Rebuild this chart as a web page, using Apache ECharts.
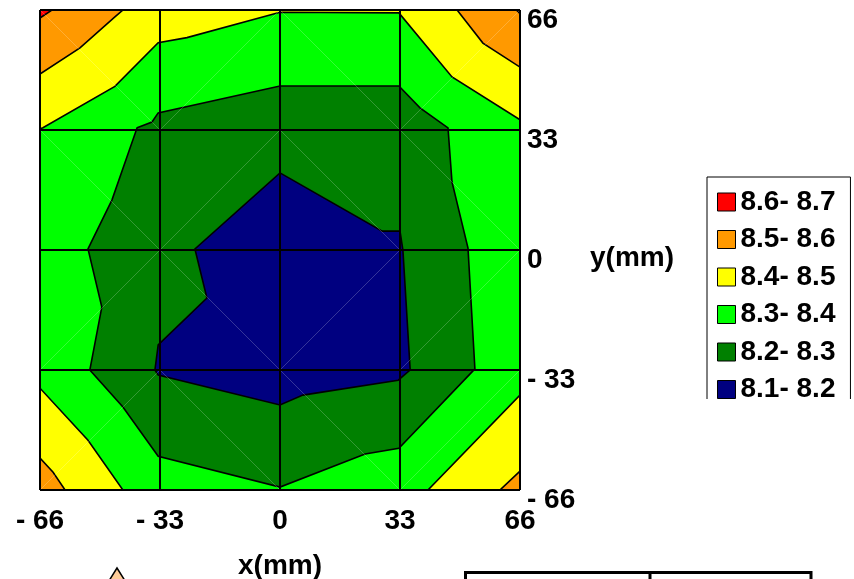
<!DOCTYPE html>
<html>
<head>
<meta charset="utf-8">
<script src="https://cdn.jsdelivr.net/npm/echarts@6/dist/echarts.min.js"></script>
<style>
html,body{margin:0;padding:0;background:#fff;}
#chart{width:854px;height:579px;}
</style>
</head>
<body>
<div id="chart"></div>
<script>
// ---- data (mm coordinates of contour band boundaries) ----
const tickValues = [-66, -33, 0, 33, 66];
const levelNames = ['8.6- 8.7', '8.5- 8.6', '8.4- 8.5', '8.3- 8.4', '8.2- 8.3', '8.1- 8.2'];
const levelColors = ['#FF0000', '#FF9900', '#FFFF00', '#00FF00', '#008000', '#000080'];

// 8.3-8.4 band covers the whole measured square
const limePolys = [
  [[-66, -66], [66, -66], [66, 66], [-66, 66]]
];
// >= 8.4 regions
const yellowPolys = [
  [[-66, 66], [66, 66], [66, 35.8], [47.3, 47.6], [32.7, 65.2], [0, 65.4], [-25.6, 58.4], [-33.5, 57.0], [-45.4, 45.0], [-65.2, 33.6], [-66, 33.3]],
  [[-66, -38.0], [-52.8, -52.3], [-43.2, -66], [-66, -66]],
  [[66, -39.9], [40.7, -66], [66, -66]]
];
// >= 8.5 regions
const orangePolys = [
  [[-66, 66], [-43.2, 66], [-45.4, 64.1], [-55.0, 55.6], [-66, 48.4]],
  [[48.7, 66], [66, 66], [66, 50.3], [55.8, 56.9]],
  [[-66, -57.2], [-62.4, -61.1], [-59.1, -66], [-66, -66]],
  [[66, -60.8], [60.5, -66], [66, -66]]
];
// >= 8.6 regions
const redPolys = [
  [[-66, 66], [-62.7, 66], [-66, 63.8]],
  [[65.0, 66], [66, 66], [66, 65.0]]
];
// < 8.3 region
const darkGreenPolys = [
  [[-39.3, 33.6], [-35.2, 35.2], [-33.5, 37.7], [0, 45.1], [32.7, 45.1], [38.5, 39.1], [46.2, 33.6],
   [47.3, 18.7], [51.7, 0.5], [53.6, -32.7], [32.7, -54.5], [23.4, -56.1], [0, -65.2], [-33.5, -56.7],
   [-43.2, -43.2], [-52.3, -33], [-49.0, -15.7], [-52.8, 0.3], [-46.2, 13.8]]
];
// < 8.2 region
const bluePolys = [
  [[0, 21.2], [28.1, 5.2], [33, 5.2], [33.8, 0], [35.8, -33], [32.5, -35.8], [6.3, -39.9], [0, -42.6],
   [-33.5, -34.4], [-34.4, -33], [-33.5, -26.1], [-20.1, -13.2], [-23.4, 0.3]]
];
// faint triangulation diagonals: [cell x0, cell y0, direction] ('a' = lower-left to upper-right)
const diagCells = [
  [-66, 33, 'b'], [-66, 0, 'b'], [-66, -33, 'a'], [-66, -66, 'a'],
  [-33, 33, 'a'], [-33, 0, 'a'], [-33, -33, 'b'], [-33, -66, 'b'],
  [0, 33, 'b'], [0, 0, 'b'], [0, -33, 'a'], [0, -66, 'b'],
  [33, 33, 'a'], [33, 0, 'b'], [33, -33, 'a'], [33, -66, 'a']
];

const FONT = 'Liberation Sans, Arial, sans-serif';

function bandSeries(name, color, polys) {
  return {
    type: 'custom',
    name: name,
    coordinateSystem: 'cartesian2d',
    clip: true,
    silent: true,
    itemStyle: { color: color, borderColor: '#000', borderWidth: 1 },
    data: polys.map((p, i) => [i]),
    renderItem: function (params, api) {
      const poly = polys[api.value(0)];
      return {
        type: 'polygon',
        shape: { points: poly.map(pt => api.coord(pt)) },
        style: { fill: color, stroke: '#000', lineWidth: 1.6 }
      };
    }
  };
}

const limeSeries = bandSeries(levelNames[3], levelColors[3], limePolys);
limeSeries.renderItem = function (params, api) {
  const poly = limePolys[api.value(0)];
  return { type: 'polygon', shape: { points: poly.map(pt => api.coord(pt)) }, style: { fill: levelColors[3] } };
};

const diagSeries = {
  type: 'custom',
  name: 'mesh',
  coordinateSystem: 'cartesian2d',
  silent: true,
  data: diagCells.map((c, i) => [i]),
  renderItem: function (params, api) {
    const c = diagCells[api.value(0)];
    const p1 = c[2] === 'a' ? [c[0], c[1]] : [c[0], c[1] + 33];
    const p2 = c[2] === 'a' ? [c[0] + 33, c[1] + 33] : [c[0] + 33, c[1]];
    const a = api.coord(p1), b = api.coord(p2);
    return {
      type: 'line',
      shape: { x1: a[0], y1: a[1], x2: b[0], y2: b[1] },
      style: { stroke: 'rgba(255,255,255,0.3)', lineWidth: 0.7 }
    };
  }
};

const labelFmt = v => (v < 0 ? '- ' + (-v) : String(v));

const chart = echarts.init(document.getElementById('chart'), null, { renderer: 'canvas' });
chart.setOption({
  animation: false,
  backgroundColor: '#fff',
  textStyle: { fontFamily: FONT },
  grid: { left: 40, top: 10, width: 480, height: 480, show: false, containLabel: false, outerBoundsMode: 'none' },
  xAxis: {
    type: 'value', min: tickValues[0], max: tickValues[tickValues.length - 1], interval: 33,
    z: 10,
    name: 'x(mm)', nameLocation: 'middle', nameGap: 62,
    nameTextStyle: { fontSize: 28, fontWeight: 'bold', color: '#000', fontFamily: FONT },
    axisLine: { show: true, lineStyle: { color: '#000', width: 2 } },
    axisTick: { show: false },
    splitLine: { show: true, lineStyle: { color: '#000', width: 2 } },
    axisLabel: { formatter: labelFmt, fontSize: 28, fontWeight: 'bold', color: '#000', margin: 17, fontFamily: FONT }
  },
  yAxis: {
    type: 'value', position: 'right', min: tickValues[0], max: tickValues[tickValues.length - 1], interval: 33,
    z: 10,
    name: 'y(mm)', nameLocation: 'middle', nameGap: 70, nameRotate: 0,
    nameTextStyle: { fontSize: 28, fontWeight: 'bold', color: '#000', fontFamily: FONT, verticalAlign: 'top', lineHeight: 16 },
    axisLine: { show: true, lineStyle: { color: '#000', width: 2 } },
    axisTick: { show: false },
    splitLine: { show: true, lineStyle: { color: '#000', width: 2 } },
    axisLabel: { formatter: labelFmt, fontSize: 28, fontWeight: 'bold', color: '#000', margin: 7,
      verticalAlign: 'top', lineHeight: 21, fontFamily: FONT }
  },
  legend: {
    data: levelNames,
    orient: 'vertical',
    left: 707, top: 177,
    padding: [11, 15, 12, 10],
    itemWidth: 18, itemHeight: 18, itemGap: 9.5,
    icon: 'rect',
    backgroundColor: '#fff',
    borderColor: '#000', borderWidth: 1,
    selectedMode: false,
    itemStyle: { borderColor: '#000', borderWidth: 1 },
    textStyle: { fontSize: 28, fontWeight: 'bold', color: '#000', fontFamily: FONT }
  },
  series: [
    limeSeries,
    bandSeries(levelNames[2], levelColors[2], yellowPolys),
    bandSeries(levelNames[1], levelColors[1], orangePolys),
    bandSeries(levelNames[0], levelColors[0], redPolys),
    bandSeries(levelNames[4], levelColors[4], darkGreenPolys),
    bandSeries(levelNames[5], levelColors[5], bluePolys),
    diagSeries
  ],
  graphic: [
    { type: 'rect', z: 100, shape: { x: 700, y: 399, width: 154, height: 20 }, style: { fill: '#fff' } },
    { type: 'polygon', z: 100, shape: { points: [[117, 568], [107, 584], [127, 584]] },
      style: { fill: '#FFCC99', stroke: '#000', lineWidth: 1.5 } },
    { type: 'polyline', z: 100, shape: { points: [[465.5, 583], [465.5, 572.5], [811, 572.5], [811, 583]] },
      style: { stroke: '#000', lineWidth: 3, fill: null } },
    { type: 'line', z: 100, shape: { x1: 650, y1: 572, x2: 650, y2: 583 }, style: { stroke: '#000', lineWidth: 3 } }
  ]
});
</script>
</body>
</html>
